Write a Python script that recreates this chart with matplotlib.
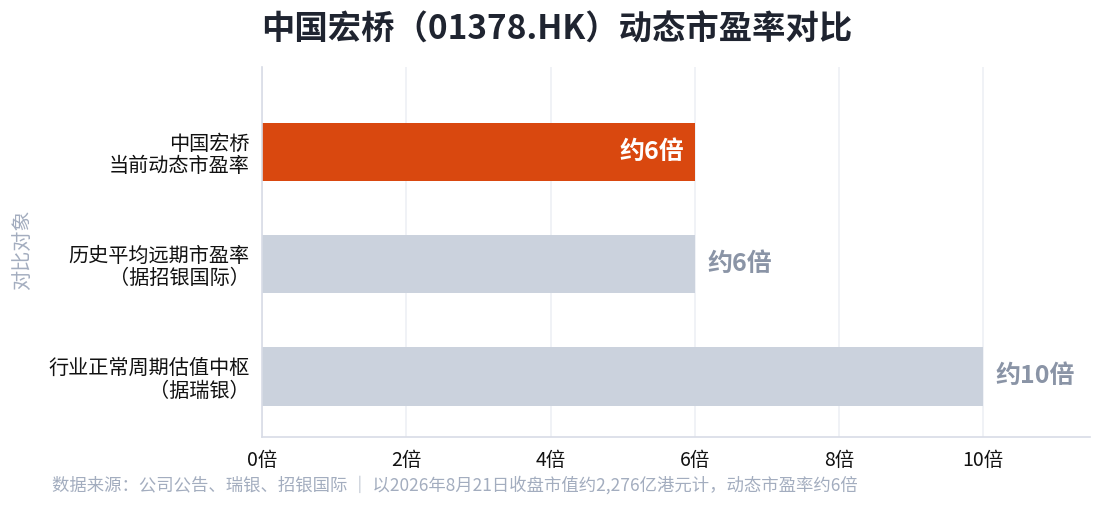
import matplotlib
matplotlib.use("Agg")
import matplotlib.pyplot as plt

plt.rcParams["font.family"] = ["Noto Sans CJK SC", "DejaVu Sans"]

categories = ["中国宏桥\n当前动态市盈率", "历史平均远期市盈率\n（据招银国际）", "行业正常周期估值中枢\n（据瑞银）"]
values = [6, 6, 10]
value_labels = ["约6倍", "约6倍", "约10倍"]
bar_colors = ["#D9480F", "#CBD2DD", "#CBD2DD"]
xticks = [0, 2, 4, 6, 8, 10]
xtick_labels = ["0倍", "2倍", "4倍", "6倍", "8倍", "10倍"]

title = "中国宏桥（01378.HK）动态市盈率对比"
ylabel = "对比对象"
source = "数据来源：公司公告、瑞银、招银国际 ｜ 以2026年8月21日收盘市值约2,276亿港元计，动态市盈率约6倍"

fig = plt.figure(figsize=(11.03, 5.07), dpi=100)
ax = fig.add_axes([262 / 1103, 70 / 507, (1090 - 262) / 1103, (437 - 67) / 507])

ypos = list(range(len(categories)))
ax.barh(ypos, values, height=0.52, color=bar_colors, zorder=2)

for i, (v, lab) in enumerate(zip(values, value_labels)):
    if i == 0:
        ax.text(v - 0.15, i, lab, ha="right", va="center", color="white",
                fontsize=18, fontweight="bold")
    else:
        ax.text(v + 0.17, i, lab, ha="left", va="center", color="#8A94A6",
                fontsize=18, fontweight="bold")

ax.set_xlim(0, 11.48)
ax.set_ylim(2.54, -0.76)
ax.set_xticks(xticks)
ax.set_xticklabels(xtick_labels, fontsize=14, color="#111111")
ax.set_yticks(ypos)
ax.set_yticklabels(categories, fontsize=14.5, color="#111111", linespacing=1.1)
ax.tick_params(axis="x", length=0, pad=9)
ax.tick_params(axis="y", length=0, pad=9)

ax.grid(axis="x", color="#EEF0F5", linewidth=1.2, zorder=0)
ax.set_axisbelow(True)
for side in ["top", "right"]:
    ax.spines[side].set_visible(False)
for side in ["left", "bottom"]:
    ax.spines[side].set_color("#D8DCE6")
    ax.spines[side].set_linewidth(1.2)

fig.text(23 / 1103, 1 - 250 / 507, ylabel, rotation=90, ha="center", va="center",
         fontsize=14.5, color="#A3ADBF")
fig.text(557 / 1103, 1 - 30 / 507, title, ha="center", va="center",
         fontsize=24, fontweight="bold", color="#1F2430")
fig.text(52 / 1103, 1 - 485 / 507, source, ha="left", va="center",
         fontsize=12.5, color="#A3ADBF")

fig.savefig("out.png", dpi=100)
